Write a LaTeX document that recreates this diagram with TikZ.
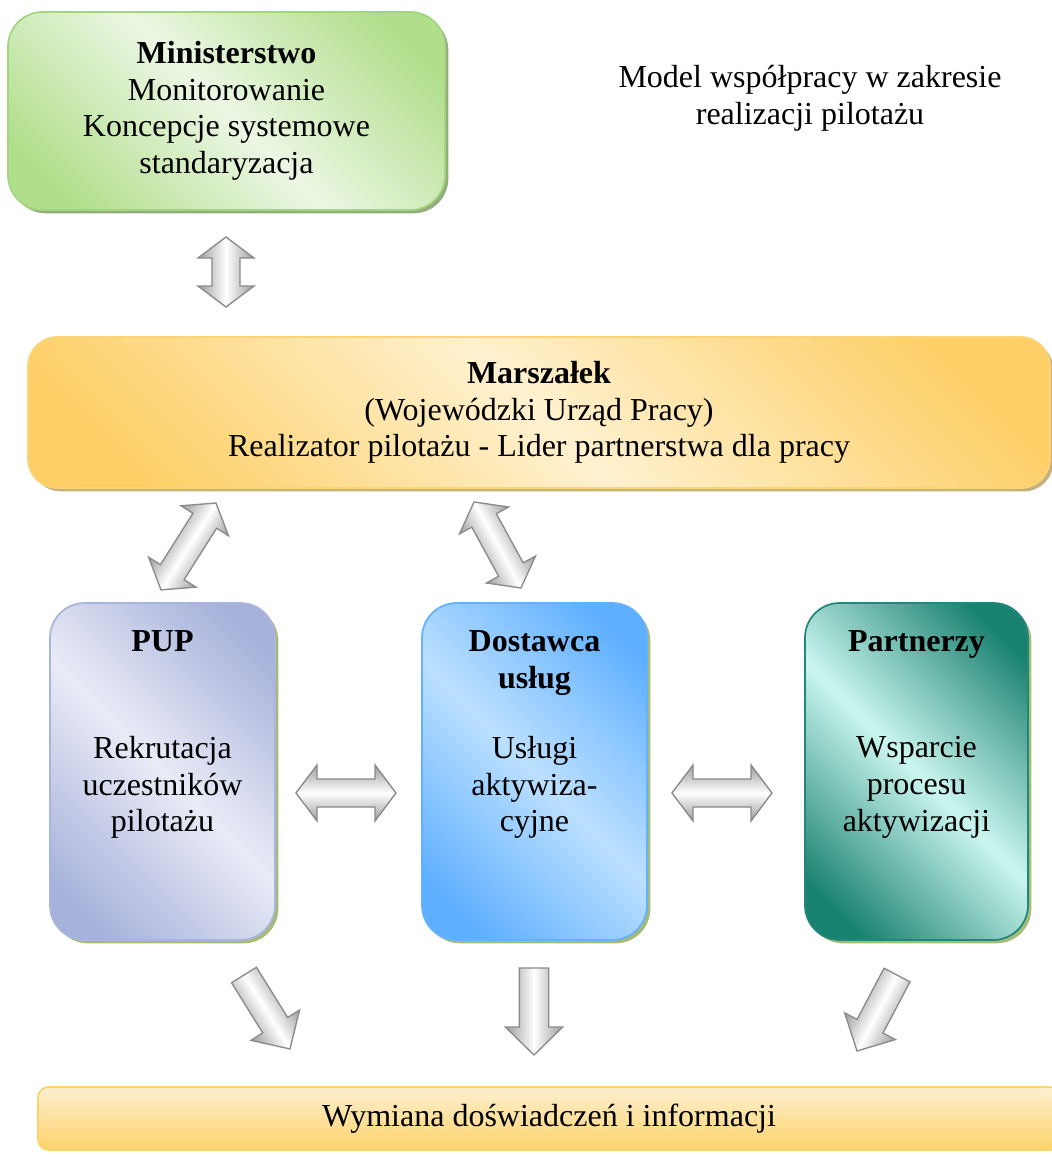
\documentclass[tikz,border=0pt]{standalone}
\usepackage{fontspec}
\setmainfont{Liberation Serif}
\usetikzlibrary{shadows, positioning, calc}

\definecolor{minidark}{HTML}{B0DE8A}
\definecolor{minilight}{HTML}{ECF7E4}
\definecolor{miniline}{HTML}{A2D67E}
\definecolor{minishadow}{HTML}{93AD7E}
\definecolor{marszdark}{HTML}{FDCF66}
\definecolor{marszlight}{HTML}{FFF1D0}
\definecolor{marszline}{HTML}{FCD478}
\definecolor{marszshadow}{HTML}{C4AF7F}
\definecolor{pupdark}{HTML}{A7B2DB}
\definecolor{puplight}{HTML}{E9EBF6}
\definecolor{pupline}{HTML}{A9B5DE}
\definecolor{dostdark}{HTML}{5EAFFF}
\definecolor{dostlight}{HTML}{BCE0FF}
\definecolor{dostline}{HTML}{63B2FF}
\definecolor{partdark}{HTML}{1A8270}
\definecolor{partlight}{HTML}{CBF6F0}
\definecolor{partline}{HTML}{22877A}
\definecolor{lowshadow}{HTML}{A5BC79}
\definecolor{wymdark}{HTML}{FED36B}
\definecolor{wymlight}{HTML}{FDEFD0}
\definecolor{arrowgray}{HTML}{9C9C9C}
\definecolor{arrowline}{HTML}{8A8A8A}

\pgfdeclarehorizontalshading{minishade}{100bp}{color(0bp)=(minidark); color(22bp)=(minidark); color(50bp)=(minilight); color(78bp)=(minidark); color(100bp)=(minidark)}
\pgfdeclarehorizontalshading{marszshade}{100bp}{color(0bp)=(marszdark); color(22bp)=(marszdark); color(50bp)=(marszlight); color(78bp)=(marszdark); color(100bp)=(marszdark)}
\pgfdeclarehorizontalshading{pupshade}{100bp}{color(0bp)=(pupdark); color(22bp)=(pupdark); color(50bp)=(puplight); color(78bp)=(pupdark); color(100bp)=(pupdark)}
\pgfdeclarehorizontalshading{dostshade}{100bp}{color(0bp)=(dostdark); color(22bp)=(dostdark); color(50bp)=(dostlight); color(78bp)=(dostdark); color(100bp)=(dostdark)}
\pgfdeclarehorizontalshading{partshade}{100bp}{color(0bp)=(partdark); color(22bp)=(partdark); color(50bp)=(partlight); color(78bp)=(partdark); color(100bp)=(partdark)}

\tikzset{
  txt/.style={font=\fontsize{24}{27.5}\selectfont, align=center, inner sep=0pt},
  box/.style={rectangle, rounded corners=26pt, line width=1.3pt, inner sep=0pt, shade, shading angle=45},
  shadowed/.style={general shadow={fill=#1, shadow xshift=2.5pt, shadow yshift=-2.5pt}},
  blockarrow/.style={draw=arrowline, line width=1pt, top color=arrowgray, bottom color=arrowgray, middle color=white}
}

% block arrow with two heads, tips at #1 and #2
\newcommand{\dblarrow}[2]{%
  \path (#1); \pgfgetlastxy{\arAx}{\arAy}%
  \path (#2); \pgfgetlastxy{\arBx}{\arBy}%
  \pgfmathsetmacro{\arang}{atan2(\arBy-\arAy,\arBx-\arAx)}%
  \pgfmathsetmacro{\arlen}{veclen(\arBx-\arAx,\arBy-\arAy)}%
  \pgfmathsetmacro{\arhead}{\arlen-15.75}%
  \begin{scope}[transform canvas={shift={(#1)}, rotate=\arang}]
    \shade[blockarrow] (0pt,0pt) -- (15.75pt,21pt) -- (15.75pt,10.5pt) -- (\arhead pt,10.5pt)
      -- (\arhead pt,21pt) -- (\arlen pt,0pt) -- (\arhead pt,-21pt) -- (\arhead pt,-10.5pt)
      -- (15.75pt,-10.5pt) -- (15.75pt,-21pt) -- cycle;
  \end{scope}}
% block arrow with one head, from #1 to #2
\newcommand{\sglarrow}[2]{%
  \path (#1); \pgfgetlastxy{\arAx}{\arAy}%
  \path (#2); \pgfgetlastxy{\arBx}{\arBy}%
  \pgfmathsetmacro{\arang}{atan2(\arBy-\arAy,\arBx-\arAx)}%
  \pgfmathsetmacro{\arlen}{veclen(\arBx-\arAx,\arBy-\arAy)}%
  \pgfmathsetmacro{\arhead}{\arlen-21}%
  \begin{scope}[transform canvas={shift={(#1)}, rotate=\arang}]
    \shade[blockarrow] (0pt,11pt) -- (\arhead pt,11pt) -- (\arhead pt,21.5pt) -- (\arlen pt,0pt)
      -- (\arhead pt,-21.5pt) -- (\arhead pt,-11pt) -- (0pt,-11pt) -- cycle;
  \end{scope}}

\begin{document}
\begin{tikzpicture}[x=0.75pt, y=-0.75pt]
  \useasboundingbox (0,0) rectangle (1052,1157);

  % upper level
  \node[box, txt, shading=minishade, draw=miniline, shadowed=minishadow,
        minimum width=327.75pt, minimum height=148.5pt] (mini) at (226.5,111)
        {\textbf{Ministerstwo}\\Monitorowanie\\Koncepcje systemowe\\standaryzacja};
  \node[txt] (model) at (810,98) {Model współpracy w zakresie\\realizacji pilotażu};

  \node[box, txt, shading=marszshade, draw=marszline, rounded corners=22pt, shadowed=marszshadow,
        minimum width=766.5pt, minimum height=113.25pt] (marsz) at (539,412.5)
        {\textbf{Marszałek}\\(Wojewódzki Urząd Pracy)\\Realizator pilotażu - Lider partnerstwa dla pracy};

  % three partners
  \node[box, shading=pupshade, draw=pupline, shadowed=lowshadow,
        minimum width=168.75pt, minimum height=252.75pt] (pup) at (162.5,771.5) {};
  \node[box, shading=dostshade, draw=dostline, shadowed=lowshadow,
        minimum width=168.75pt, minimum height=252.75pt] (dost) at (534.5,771.5) {};
  \node[box, shading=partshade, draw=partline, shadowed=lowshadow,
        minimum width=167.25pt, minimum height=252.75pt] (part) at (916.5,771.5) {};

  \node[txt, font=\fontsize{24}{27.5}\selectfont\bfseries, below=21pt of pup.north] (puptitle) {PUP};
  \node[txt, font=\fontsize{24}{27.5}\selectfont\bfseries, below=21pt of dost.north] (dosttitle) {Dostawca\\usług};
  \node[txt, font=\fontsize{24}{27.5}\selectfont\bfseries, below=21pt of part.north] (parttitle) {Partnerzy};
  \node[txt] (pupbody) at ([yshift=-12pt]pup.center) {Rekrutacja\\uczestników\\pilotażu};
  \node[txt] (dostbody) at ([yshift=-12pt]dost.center) {Usługi\\aktywiza-\\cyjne};
  \node[txt] (partbody) at ([yshift=-12pt]part.center) {Wsparcie\\procesu\\aktywizacji};

  % bottom bar
  \node[txt, rectangle, rounded corners=8pt, line width=1.3pt, draw=wymdark,
        top color=wymlight, bottom color=wymdark, minimum width=766.5pt, minimum height=47.25pt]
        (wym) at (549,1118.5) {Wymiana doświadczeń i informacji};

  % arrow ends
  \coordinate (ma1) at (226,237);  \coordinate (ma2) at (226,307);
  \coordinate (pm1) at (216,503);  \coordinate (pm2) at (161,590);
  \coordinate (dm1) at (474,502);  \coordinate (dm2) at (521,588);
  \coordinate (pd1) at (296,793);  \coordinate (pd2) at (396,793);
  \coordinate (dp1) at (672,793);  \coordinate (dp2) at (772,793);
  \coordinate (pw1) at (244,975);  \coordinate (pw2) at (290,1049);
  \coordinate (dw1) at (534,968);  \coordinate (dw2) at (534,1055);
  \coordinate (tw1) at (897,975);  \coordinate (tw2) at (857,1051);

  \dblarrow{ma1}{ma2}
  \dblarrow{pm1}{pm2}
  \dblarrow{dm1}{dm2}
  \dblarrow{pd1}{pd2}
  \dblarrow{dp1}{dp2}
  \sglarrow{pw1}{pw2}
  \sglarrow{dw1}{dw2}
  \sglarrow{tw1}{tw2}
\end{tikzpicture}
\end{document}
